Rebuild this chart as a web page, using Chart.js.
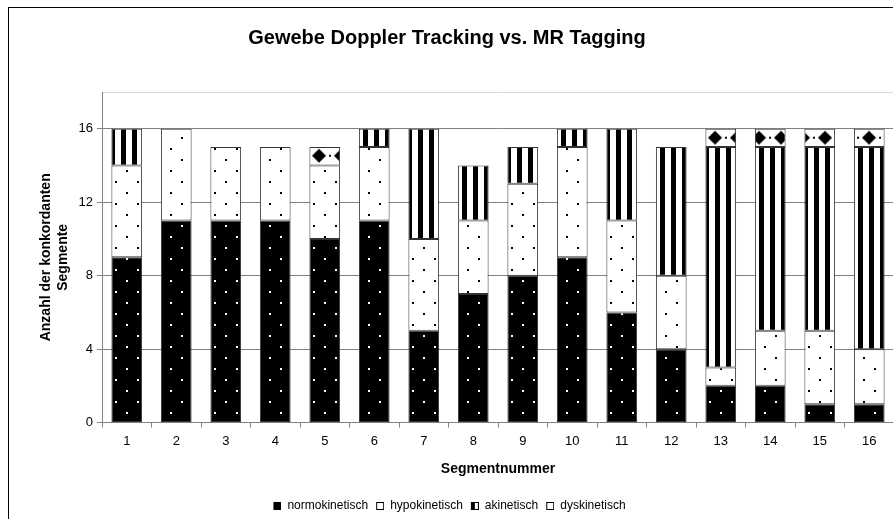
<!DOCTYPE html>
<html>
<head>
<meta charset="utf-8">
<script src="https://cdn.jsdelivr.net/npm/chart.js@4"></script>
<style>
  html, body { margin: 0; padding: 0; overflow: hidden; background: #fff; }
  #wrap { position: absolute; left: 0; top: 0; width: 918px; height: 519px; }
</style>
</head>
<body>
<div id="wrap"><canvas id="chart" width="918" height="519"></canvas></div>
<script>
const segments = ['1', '2', '3', '4', '5', '6', '7', '8', '9', '10', '11', '12', '13', '14', '15', '16'];
const normokinetisch = [9, 11, 11, 11, 10, 11, 5, 7, 8, 9, 6, 4, 2, 2, 1, 1];
const hypokinetisch = [5, 5, 4, 4, 4, 4, 5, 4, 5, 6, 5, 4, 1, 3, 4, 3];
const akinetisch = [2, 0, 0, 0, 0, 1, 6, 3, 2, 1, 5, 7, 12, 10, 10, 11];
const dyskinetisch = [0, 0, 0, 0, 1, 0, 0, 0, 0, 0, 0, 0, 1, 1, 1, 1];
const yTicks = [0, 4, 8, 12, 16];

const FONT = "'Liberation Sans', Arial, sans-serif";
const ctx = document.getElementById('chart').getContext('2d');

function tile(w, h, draw) {
  const c = document.createElement('canvas');
  c.width = w;
  c.height = h;
  draw(c.getContext('2d'));
  return c;
}

// fill patterns like the old excel b/w hatches
const normoFill = ctx.createPattern(tile(22, 22, g => {
  g.fillStyle = '#000'; g.fillRect(0, 0, 22, 22);
  g.fillStyle = '#fff'; g.fillRect(5, 5, 2, 2); g.fillRect(16, 16, 2, 2);
}), 'repeat');
const hypoFill = ctx.createPattern(tile(22, 22, g => {
  g.fillStyle = '#fff'; g.fillRect(0, 0, 22, 22);
  g.fillStyle = '#000'; g.fillRect(5, 5, 2, 2); g.fillRect(16, 16, 2, 2);
}), 'repeat');
const akiFill = ctx.createPattern(tile(11, 4, g => {
  g.fillStyle = '#fff'; g.fillRect(0, 0, 11, 4);
  g.fillStyle = '#000'; g.fillRect(0, 0, 5, 4);
}), 'repeat');
const dysFill = ctx.createPattern(tile(22, 18, g => {
  g.fillStyle = '#fff'; g.fillRect(0, 0, 22, 18);
  g.fillStyle = '#000';
  g.beginPath();
  g.moveTo(11, 2); g.lineTo(18, 9); g.lineTo(11, 16); g.lineTo(4, 9); g.closePath();
  g.fill();
  g.beginPath(); g.arc(11, 9, 4.5, 0, Math.PI * 2); g.fill();
  g.fillRect(0, 8, 1, 2); g.fillRect(21, 8, 1, 2);
}), 'repeat');

// small legend icons, box sits on the right with a little gap before it
function icon(draw) {
  return tile(13, 8, g => {
    g.translate(5, 0);
    g.fillStyle = '#fff'; g.fillRect(0, 0, 8, 8);
    draw(g);
    g.strokeStyle = '#000'; g.lineWidth = 1; g.strokeRect(0.5, 0.5, 7, 7);
  });
}
const icons = [
  icon(g => { g.fillStyle = '#000'; g.fillRect(0, 0, 8, 8); }),
  icon(g => {}),
  icon(g => { g.fillStyle = '#000'; g.fillRect(0, 0, 4, 8); }),
  icon(g => {})
];

const frame = {
  id: 'frame',
  beforeDatasetsDraw(chart) {
    // line the diamond row up with the top segment
    const y16 = chart.scales.y.getPixelForValue(16);
    dysFill.setTransform(new DOMMatrix().translate(0, y16));
  },
  afterDraw(chart) {
    const c = chart.ctx;
    c.save();
    c.strokeStyle = '#000';
    c.lineWidth = 1;
    c.strokeRect(8.5, 7.5, 1000, 1000);
    c.restore();
  }
};

new Chart(ctx, {
  type: 'bar',
  data: {
    labels: segments,
    datasets: [
      { label: 'normokinetisch', data: normokinetisch, backgroundColor: normoFill },
      { label: 'hypokinetisch', data: hypokinetisch, backgroundColor: hypoFill },
      { label: 'akinetisch', data: akinetisch, backgroundColor: akiFill },
      { label: 'dyskinetisch', data: dyskinetisch, backgroundColor: dysFill }
    ]
  },
  options: {
    responsive: false,
    animation: false,
    layout: { padding: { left: 0, right: 24, top: 0, bottom: -3 } },
    datasets: {
      bar: {
        categoryPercentage: 1,
        barPercentage: 0.62,
        borderColor: '#333',
        borderWidth: 1,
        borderSkipped: false
      }
    },
    plugins: {
      title: {
        display: true,
        text: 'Gewebe Doppler Tracking vs. MR Tagging',
        color: '#000',
        font: { family: FONT, size: 20, weight: 'bold' },
        padding: { top: 26, bottom: 42 }
      },
      legend: {
        position: 'bottom',
        labels: {
          color: '#000',
          font: { family: FONT, size: 12 },
          usePointStyle: true,
          pointStyleWidth: 13,
          boxHeight: 8,
          padding: 3,
          generateLabels: chart => chart.data.datasets.map((ds, i) => ({
            text: ds.label,
            pointStyle: icons[i],
            datasetIndex: i,
            hidden: false,
            fillStyle: 'transparent',
            strokeStyle: 'transparent',
            lineWidth: 0
          }))
        }
      },
      tooltip: { enabled: false }
    },
    scales: {
      x: {
        stacked: true,
        grid: {
          offset: true,
          drawOnChartArea: false,
          tickLength: 5,
          color: '#808080'
        },
        border: { color: '#808080' },
        ticks: { color: '#000', font: { family: FONT, size: 13 }, padding: 6 },
        title: {
          display: true,
          text: 'Segmentnummer',
          color: '#000',
          font: { family: FONT, size: 14, weight: 'bold' },
          padding: { top: 6, bottom: 19 }
        }
      },
      y: {
        stacked: true,
        min: 0,
        max: 18,
        afterFit(scale) { scale.width = 102; },
        grid: {
          tickLength: 5,
          color: c => (c.tick && c.tick.value === 18) ? '#d9d9d9' : '#808080',
          tickColor: c => (c.tick && c.tick.value === 18) ? 'rgba(0,0,0,0)' : '#808080'
        },
        border: { color: '#808080' },
        ticks: {
          stepSize: 4,
          color: '#000',
          font: { family: FONT, size: 13 },
          padding: 4,
          callback: v => yTicks.includes(v) ? String(v) : ''
        },
        title: {
          display: true,
          text: ['Anzahl der konkordanten', 'Segmente'],
          color: '#000',
          font: { family: FONT, size: 14, weight: 'bold' },
          padding: { top: 38, bottom: 0 }
        }
      }
    }
  },
  plugins: [frame]
});
</script>
</body>
</html>
